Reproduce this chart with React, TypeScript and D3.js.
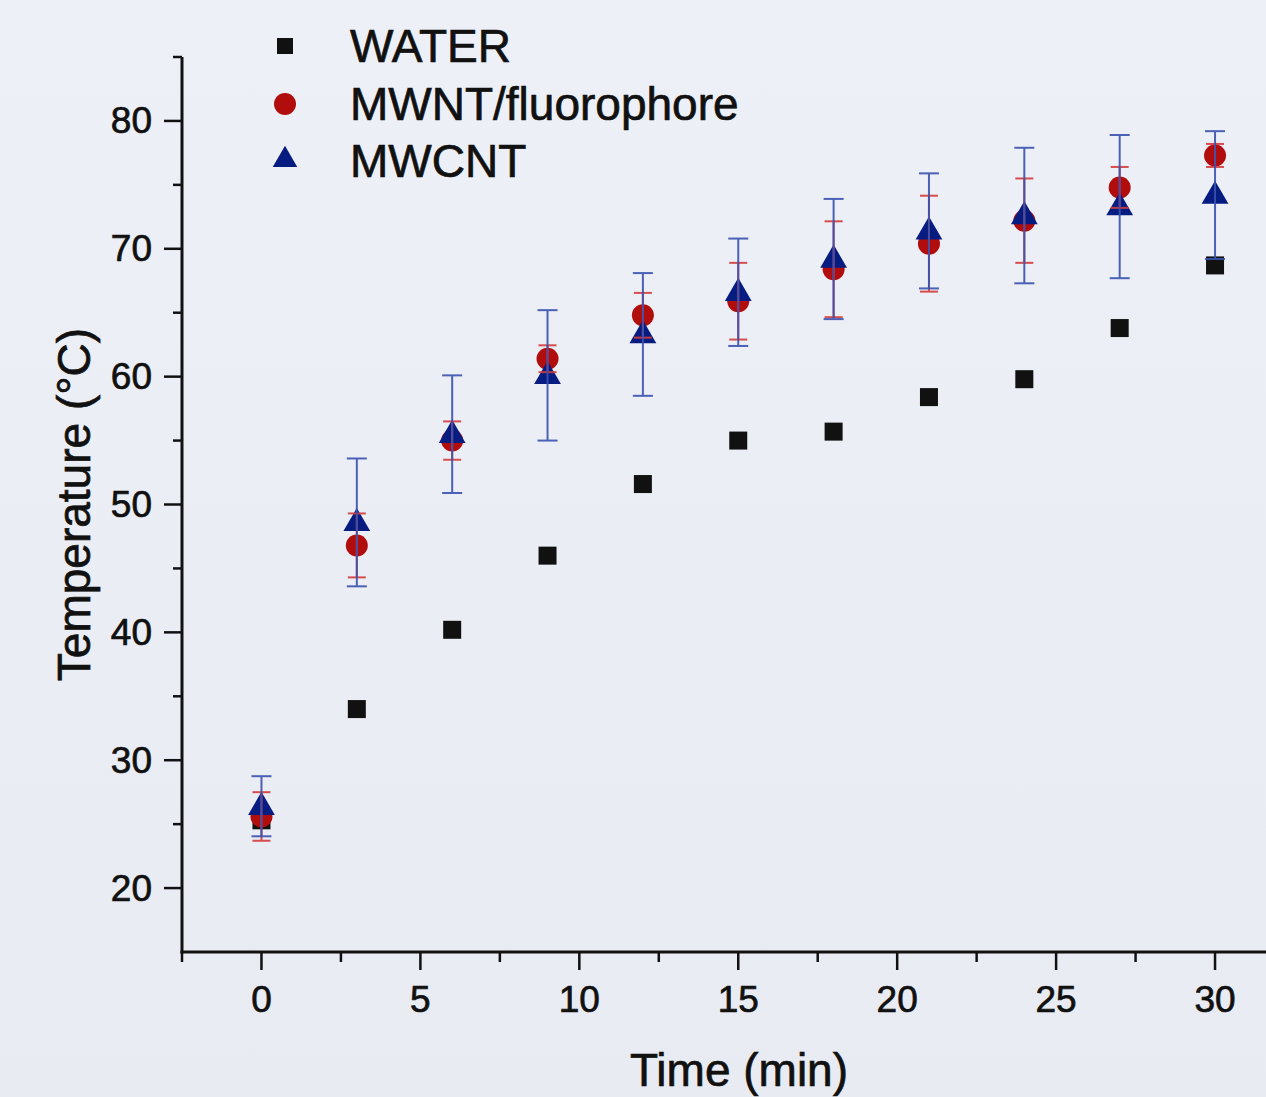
import React from "react";
import * as d3 from "d3";

const times = [0, 3, 6, 9, 12, 15, 18, 21, 24, 27, 30];
const water = [25.3, 34.0, 40.2, 46.0, 51.6, 55.0, 55.7, 58.4, 59.8, 63.8, 68.7];
const mwntFluor = [25.6, 46.8, 55.0, 61.4, 64.8, 65.9, 68.4, 70.4, 72.2, 74.8, 77.3];
const mwntFluorErr = [1.9, 2.5, 1.5, 1.05, 1.75, 3.0, 3.75, 3.75, 3.3, 1.6, 0.9];
const mwcnt = [26.4, 48.6, 55.5, 60.1, 63.3, 66.6, 69.2, 71.4, 72.6, 73.3, 74.2];
const mwcntErr = [2.35, 5.0, 4.6, 5.1, 4.8, 4.2, 4.7, 4.5, 5.3, 5.6, 5.0];
const seriesNames = ["WATER", "MWNT/fluorophore", "MWCNT"];
const xTicks = [0, 5, 10, 15, 20, 25, 30];
const xMinor = [-2.5, 2.5, 7.5, 12.5, 17.5, 22.5, 27.5, 32.5];
const yTicks = [20, 30, 40, 50, 60, 70, 80];
const yMinor = [25, 35, 45, 55, 65, 75, 85];

const W = 1266;
const H = 1097;
const FONT = "'Liberation Sans', Arial, sans-serif";
const BLACK = "#111111";
const RED = "#b10d0d";
const NAVY = "#061c80";
const RED_ERR = "#d43c3c";
const BLUE_ERR = "#3a52b0";
const TXT_STROKE = 0.7;

export default function App() {
  const x = d3.scaleLinear().domain([-2.5, 32.5]).range([182, 1294.5]);
  const y = d3.scaleLinear().domain([15, 85]).range([952, 57]);
  const x0 = 182;
  const y0 = 952;

  const sq = 18;
  const circR = 11;
  const tri = d3.symbol().type(d3.symbolTriangle).size(310);

  const errBars = (vals: number[], errs: number[], color: string, cap: number) =>
    times.map((t, i) => {
      const cx = x(t);
      const yt = y(vals[i] + errs[i]);
      const yb = y(vals[i] - errs[i]);
      return (
        <g key={i} stroke={color} strokeWidth={2} opacity={0.9}>
          <line x1={cx} x2={cx} y1={yt} y2={yb} />
          <line x1={cx - cap / 2} x2={cx + cap / 2} y1={yt} y2={yt} />
          <line x1={cx - cap / 2} x2={cx + cap / 2} y1={yb} y2={yb} />
        </g>
      );
    });

  return (
    <svg
      width={W}
      height={H}
      style={{ position: "absolute", left: 0, top: 0 }}
      fontFamily={FONT}
    >
      <defs>
        <linearGradient id="bg" x1="0" y1="0" x2="0" y2="1">
          <stop offset="0" stopColor="#edf0f7" />
          <stop offset="1" stopColor="#e8ebf2" />
        </linearGradient>
      </defs>
      <rect x={0} y={0} width={W} height={H} fill="url(#bg)" />

      {/* axes */}
      <line x1={x0} x2={x0} y1={57} y2={y0 + 1.5} stroke={BLACK} strokeWidth={3} />
      <line x1={x0 - 1.5} x2={W} y1={y0} y2={y0} stroke={BLACK} strokeWidth={3} />

      {yTicks.map((v) => (
        <g key={"yt" + v}>
          <line x1={x0 - 18} x2={x0} y1={y(v)} y2={y(v)} stroke={BLACK} strokeWidth={2.5} />
          <text
            x={152}
            y={y(v)}
            textAnchor="end"
            dominantBaseline="central"
            fontSize={37}
            fill={BLACK}
            stroke={BLACK}
            strokeWidth={TXT_STROKE}
          >
            {v}
          </text>
        </g>
      ))}
      {yMinor.map((v) => (
        <line key={"ym" + v} x1={x0 - 9} x2={x0} y1={y(v)} y2={y(v)} stroke={BLACK} strokeWidth={2.5} />
      ))}

      {xTicks.map((v) => (
        <g key={"xt" + v}>
          <line x1={x(v)} x2={x(v)} y1={y0} y2={y0 + 18} stroke={BLACK} strokeWidth={2.5} />
          <text
            x={x(v)}
            y={999}
            textAnchor="middle"
            dominantBaseline="central"
            fontSize={37}
            fill={BLACK}
            stroke={BLACK}
            strokeWidth={TXT_STROKE}
          >
            {v}
          </text>
        </g>
      ))}
      {xMinor.map((v) => (
        <line key={"xm" + v} x1={x(v)} x2={x(v)} y1={y0} y2={y0 + 10} stroke={BLACK} strokeWidth={2.5} />
      ))}

      <text
        x={739}
        y={1086}
        textAnchor="middle"
        fontSize={46}
        fill={BLACK}
        stroke={BLACK}
        strokeWidth={TXT_STROKE}
      >
        Time (min)
      </text>
      <text
        transform={`translate(90, ${(57 + 952) / 2}) rotate(-90)`}
        textAnchor="middle"
        fontSize={46}
        fill={BLACK}
        stroke={BLACK}
        strokeWidth={TXT_STROKE}
      >
        Temperature (°C)
      </text>

      {/* markers */}
      {times.map((t, i) => (
        <rect
          key={"w" + i}
          x={x(t) - sq / 2}
          y={y(water[i]) - sq / 2}
          width={sq}
          height={sq}
          fill={BLACK}
        />
      ))}
      {times.map((t, i) => (
        <circle key={"r" + i} cx={x(t)} cy={y(mwntFluor[i])} r={circR} fill={RED} />
      ))}
      {times.map((t, i) => (
        <path
          key={"b" + i}
          d={tri() as string}
          transform={`translate(${x(t)}, ${y(mwcnt[i]) + 1})`}
          fill={NAVY}
        />
      ))}

      {errBars(mwntFluor, mwntFluorErr, RED_ERR, 18)}
      {errBars(mwcnt, mwcntErr, BLUE_ERR, 20)}

      {/* legend */}
      <rect x={285 - 8} y={46 - 8} width={16} height={16} fill={BLACK} />
      <circle cx={285} cy={104} r={11} fill={RED} />
      <path
        d={d3.symbol().type(d3.symbolTriangle).size(260)() as string}
        transform="translate(285, 160)"
        fill={NAVY}
      />
      {seriesNames.map((n, i) => (
        <text
          key={n}
          x={350}
          y={46 + i * 57.5}
          dominantBaseline="central"
          fontSize={46}
          fill={BLACK}
          stroke={BLACK}
          strokeWidth={TXT_STROKE}
        >
          {n}
        </text>
      ))}
    </svg>
  );
}
